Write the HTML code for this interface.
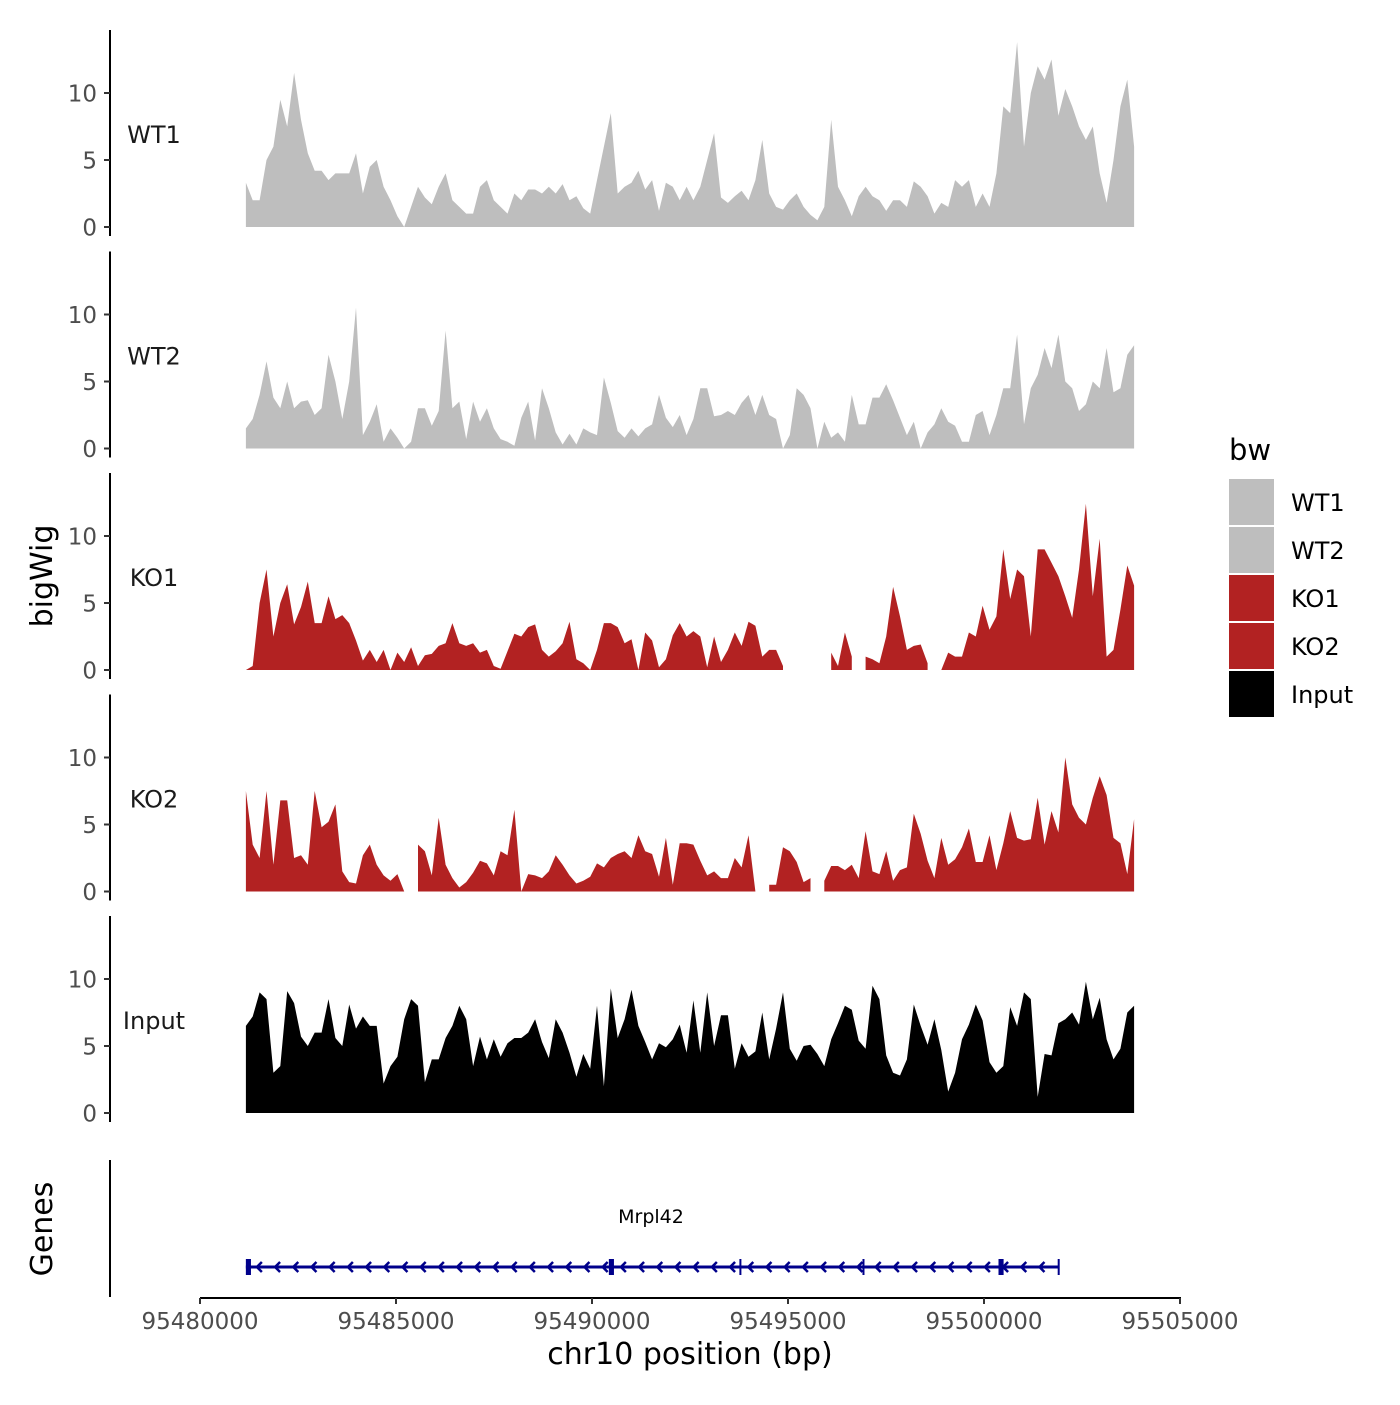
<!DOCTYPE html>
<html><head><meta charset="utf-8"><style>
html,body{margin:0;padding:0;background:#fff;}
svg text{font-family:"DejaVu Sans","Liberation Sans",sans-serif;}
</style></head><body>
<svg id="chart" width="1400" height="1400" xmlns="http://www.w3.org/2000/svg">
<rect width="1400" height="1400" fill="#fff"/>
<g id="tracks"></g>
<g id="genes"></g>
<g id="xaxis"></g>
<text x="0" y="0" transform="translate(52,576) rotate(-90)" text-anchor="middle" font-size="30" fill="#000">bigWig</text>
<text x="0" y="0" transform="translate(52,1229) rotate(-90)" text-anchor="middle" font-size="30" fill="#000">Genes</text>
<text x="690" y="1364" text-anchor="middle" font-size="30" fill="#000">chr10 position (bp)</text>
<g id="legend"></g>
</svg>
<script>
const trackNames = ["WT1","WT2","KO1","KO2","Input"];
const trackColors = ["#bebebe","#bebebe","#b22222","#b22222","#000000"];
const regionStart = 95481170;
const regionEnd = 95503830;
const yTicks = [0,5,10];
const xTicks = [95480000,95485000,95490000,95495000,95500000,95505000];
const wt1 = [3.3,2,2,5,6,9.5,7.5,11.5,8,5.5,4.2,4.2,3.5,4,4,4,5.5,2.5,4.5,5,3,2,0.8,0,1.5,3,2.2,1.7,3,4,2,1.5,1,1,3,3.5,2,1.5,1,2.5,2,2.8,2.8,2.5,3,2.5,3.2,2,2.3,1.4,1,3.5,6,8.5,2.5,3,3.3,4.2,2.8,3.5,1.2,3.3,3,2,3,2,3,5,7,2.2,1.8,2.3,2.7,2,3.5,6.5,2.5,1.5,1.3,2,2.5,1.5,0.9,0.5,1.5,8,3,2,0.8,2.3,3,2.3,2,1.2,2,2,1.5,3.4,3,2.3,1,1.8,1.5,3.5,3,3.5,1.5,2.5,1.5,4,9,8.5,13.8,6,10,12,11,12.5,8.3,10.3,9,7.5,6.5,7.5,4,1.8,5,9,11,6];
const wt2 = [1.5,2.2,4,6.5,3.8,3,5,3,3.5,3.6,2.5,3,7,5,2.2,5,10.5,1,2,3.3,0.5,1.5,0.8,0,0.5,3,3,1.7,2.8,8.8,3,3.5,0.7,3.5,2,3,1.5,0.7,0.5,0.2,2.3,3.5,0.6,4.5,3,1.2,0.3,1.1,0.3,1.5,1.2,1,5.3,3.4,1.3,0.8,1.5,0.9,1.5,1.8,4,2.3,1.6,2.5,1,2.2,4.5,4.5,2.4,2.5,2.8,2.5,3.4,4,2.5,4,2.5,2.2,0,1,4.5,4,3,0,2,0.8,1.2,0.5,4,1.8,1.8,3.8,3.8,4.8,3.6,2.3,1,2,0,1.2,1.8,3,2,1.7,0.5,0.5,2.5,2.8,1,2.5,4.5,4.5,8.5,1.8,4.5,5.5,7.5,6,8.5,5,4.5,2.8,3.3,5,4.5,7.5,4.2,4.5,7,7.7];
const ko1 = [0,0.3,5,7.5,2.5,5,6.4,3.4,4.7,6.6,3.5,3.5,5.5,3.8,4.1,3.5,2.2,0.7,1.5,0.6,1.5,0,1.3,0.6,1.7,0.3,1.1,1.2,1.8,2,3.5,2,1.8,2,1.3,1.5,0.3,0.1,1.4,2.7,2.5,3.2,3.4,1.5,1,1.4,2,3.6,0.8,0.5,0,1.5,3.5,3.5,3.2,2,2.3,0,2.8,2.2,0.2,0.8,2.6,3.5,2.5,2.9,2.5,0.2,2.5,0.6,1.5,2.8,1.8,3.6,3.3,1,1.5,1.5,0.3,null,1.3,null,null,null,null,1.3,0.3,2.8,1,null,1,0.8,0.5,2.5,6.2,4,1.5,1.8,1.9,0.5,null,0,1.3,1,1,2.8,2.5,4.8,3,4,9,5.3,7.5,7,2.5,9,9,8,7,5.5,3.9,7.5,12.4,5.5,9.8,1,1.5,4.5,7.8,6.3];
const ko2 = [7.5,3.5,2.5,7.5,2,6.8,6.8,2.5,2.7,2,7.5,4.8,5.2,6.5,1.5,0.7,0.6,2.7,3.5,2,1.2,0.8,1.3,0,null,3.5,3,1.2,5.5,2,1,0.3,0.7,1.4,2.3,2.1,1.2,3,2.7,6.1,0,1.3,1.2,1,1.5,2.7,2,1.2,0.6,0.8,1.1,2.1,1.8,2.5,2.8,3,2.5,4.2,3,2.8,1.1,4,0.5,3.6,3.6,3.5,2.3,1.2,1.5,1,1,2.5,1.8,4.2,0,null,0.5,0.5,3.3,3,2.2,0.7,1,null,0.8,1.9,1.9,1.6,2,1,4.5,1.5,1.3,3,0.8,1.6,1.8,5.8,4.3,2.3,1,4,2,2.4,3.3,4.7,2.2,2.2,4.2,1.6,3.6,6,4,3.8,3.9,7,3.5,6,4.4,10,6.5,5.5,5,7,8.6,7.2,4,3.6,1.3,5.4];
const inputTrack = [6.5,7.2,9,8.5,3,3.5,9.1,8.2,5.7,5,6,6,8.5,5.6,5,8.1,6.3,7.2,6.5,6.5,2.2,3.5,4.2,7,8.5,8,2.3,4,4,5.6,6.5,8,7,3.5,5.7,4,5.5,4.2,5.2,5.6,5.6,6,7,5.3,4.1,7,6,4.5,2.7,4.4,3.3,8,2,9.3,5.6,7,9.2,6.5,5.3,4,5.2,4.9,5.5,6.6,4.5,8.4,4.5,9,5,7.3,7.3,3.3,5.2,4.2,4.6,7.5,4,6.3,9,4.8,3.9,5,5.1,4.4,3.5,5.5,6.7,8,7.7,5.4,4.8,9.5,8.5,4.3,3,2.8,4,8.1,6.5,5.1,7,4.7,1.6,3,5.5,6.6,8.1,6.9,3.8,3,3.5,7.9,6.5,9,8.5,1.2,4.4,4.3,6.7,7,7.5,6.6,9.8,7,8.6,5.5,4,4.8,7.5,8];
const trackValues = [wt1, wt2, ko1, ko2, inputTrack];
const geneName = "Mrpl42";
const geneStart = 95481170;
const geneEnd = 95501890;
const exonStarts = [95481170,95490430,95493760,95496900,95500370,95501880];
const exonEnds = [95481300,95490560,95493800,95496930,95500500,95501900];

const NS = "http://www.w3.org/2000/svg";
function mk(tag, attrs, parent){const e=document.createElementNS(NS,tag);for(const k in attrs)e.setAttribute(k,attrs[k]);parent.appendChild(e);return e;}
const xScale = bp => 200 + (bp - 95480000) * (980 / 25000);
const panelBase = i => 227 + i * 221.5;
const yScale = (i, v) => panelBase(i) - v * 13.4;

const tracksG = document.getElementById('tracks');
trackValues.forEach((vals, ti) => {
  const g = mk('g', {}, tracksG);
  
  
  const n = vals.length, step = (regionEnd - regionStart) / (n - 1);
  const base = panelBase(ti);
  let seg = [];
  const segs = [];
  vals.forEach((v, i) => {
    if (v === null) { if (seg.length) segs.push(seg); seg = []; }
    else seg.push([xScale(regionStart + i * step), yScale(ti, v)]);
  });
  if (seg.length) segs.push(seg);
  segs.forEach(s => {
    let d = 'M' + s[0][0].toFixed(1) + ',' + base;
    s.forEach(p => d += 'L' + p[0].toFixed(1) + ',' + p[1].toFixed(1));
    d += 'L' + s[s.length-1][0].toFixed(1) + ',' + base + 'Z';
    const p = mk('path', {d: d, fill: trackColors[ti]}, g);
    
    
  });
  const ax = mk('line', {x1:110, x2:110, y1: base - 197, y2: base + 9, stroke:'#000', 'stroke-width':2}, g);
  
  
  yTicks.forEach(t => {
    const y = yScale(ti, t);
    const tk = mk('line', {x1:104, x2:110, y1:y, y2:y, stroke:'#333', 'stroke-width':2}, g);
    
    
    const tl = mk('text', {x:97, y:y+8.5, 'text-anchor':'end', 'font-size':23, fill:'#4d4d4d'}, g);
    tl.textContent = t;
    
    
  });
  const lab = mk('text', {x:154, y: base - 84, 'text-anchor':'middle', 'font-size':24, fill:'#1a1a1a'}, g);
  lab.textContent = trackNames[ti];
  
  
});

const gg = document.getElementById('genes');
const gy = 1267;
const gax = mk('line', {x1:110, x2:110, y1:1160, y2:1297, stroke:'#000', 'stroke-width':2}, gg);


const gl = mk('line', {x1:xScale(geneStart), x2:xScale(geneEnd), y1:gy, y2:gy, stroke:'#00008b', 'stroke-width':3}, gg);


for (let x = xScale(geneStart) + 12; x < xScale(geneEnd) - 4; x += 18.2) {
  const a = mk('path', {d:`M${x+4},${gy-5}L${x-1},${gy}L${x+4},${gy+5}`, fill:'none', stroke:'#00008b', 'stroke-width':2.5}, gg);
  
  
}
exonStarts.forEach((s, i) => {
  const x1 = xScale(s), x2 = Math.max(xScale(exonEnds[i]), x1 + 2);
  const r = mk('rect', {x:x1, y:gy-8, width:x2-x1, height:16, fill:'#00008b'}, gg);
  
  
});
const gt = mk('text', {x:651, y:1223, 'text-anchor':'middle', 'font-size':19, fill:'#000'}, gg);
gt.textContent = geneName;



const xg = document.getElementById('xaxis');
const xl = mk('line', {x1:200, x2:1181, y1:1298, y2:1298, stroke:'#000', 'stroke-width':2}, xg);


xTicks.forEach(t => {
  const x = xScale(t);
  const tk = mk('line', {x1:x, x2:x, y1:1298, y2:1304, stroke:'#333', 'stroke-width':2}, xg);
  
  
  const tl = mk('text', {x:x, y:1329, 'text-anchor':'middle', 'font-size':23, fill:'#4d4d4d'}, xg);
  tl.textContent = t;
  
  
});

const lg = document.getElementById('legend');
const lt = mk('text', {x:1229, y:460, 'font-size':29, fill:'#000'}, lg);
lt.textContent = 'bw';


trackNames.forEach((n, i) => {
  const y = 479 + i * 48;
  const r = mk('rect', {x:1229, y:y, width:45, height:46, fill:trackColors[i]}, lg);
  
  
  const t = mk('text', {x:1291, y:y+32, 'font-size':24, fill:'#000'}, lg);
  t.textContent = n;
  
  
});
</script>
</body></html>
